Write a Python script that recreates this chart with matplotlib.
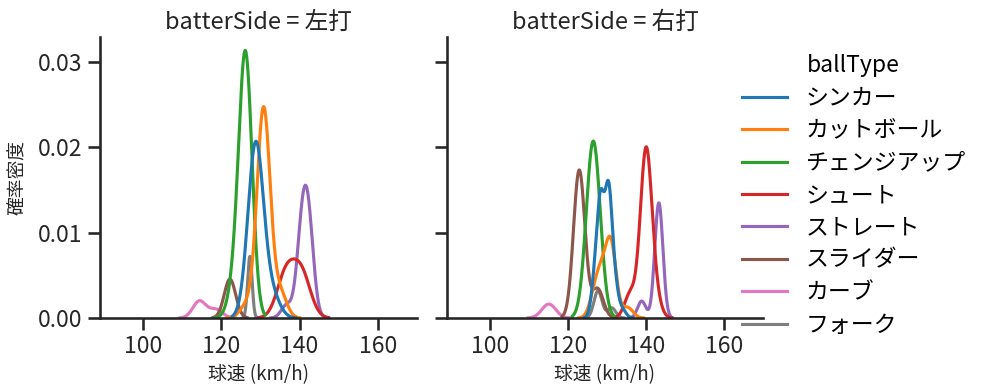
import numpy as np
import matplotlib
matplotlib.use("Agg")
import matplotlib.pyplot as plt
from matplotlib.lines import Line2D

plt.rcParams['font.family'] = ['Noto Sans CJK JP', 'DejaVu Sans']

ball_types = ["シンカー", "カットボール", "チェンジアップ", "シュート",
              "ストレート", "スライダー", "カーブ", "フォーク"]
colors = ["#1f77b4", "#ff7f0e", "#2ca02c", "#d62728",
          "#9467bd", "#8c564b", "#e377c2", "#7f7f7f"]
sides = ["左打", "右打"]
xticks = [100, 120, 140, 160]
yticks = [0.00, 0.01, 0.02, 0.03]

# speed bins (km/h), pitch counts and kde bandwidth per ball type
left_speeds = [[128.8, 133.0], [126.5, 130.8, 135.0], [123.5, 126.2], [136.5, 140.5],
               [136.7, 140.6, 142.3], [122.2], [114.4, 118.6], [127.3]]
left_counts = [[98, 12], [6, 99, 12], [15, 122], [28, 28],
               [5, 30, 32], [16], [8, 4], [10]]
left_bw = [1.99, 1.67, 1.67, 2.3, 1.36, 1.46, 1.67, 0.575]

right_speeds = [[126.9, 128.4, 130.4, 132.0, 134.0], [126.9, 128.6, 131.0, 135.3], [126.5],
                [136.0, 140.0, 142.3], [138.9, 143.3], [122.9, 127.6], [115.1], [127.7, 131.2]]
right_counts = [[9, 28, 31, 8, 2], [8, 13, 28, 4], [89],
                [10, 68, 8], [5, 34], [61, 12], [7], [8, 3]]
right_bw = [0.91, 1.36, 1.78, 1.46, 1.045, 1.46, 1.78, 1.045]

total = sum(sum(c) for c in left_counts + right_counts)


def kde(speeds, counts, bw):
	x = np.linspace(min(speeds) - 3 * bw, max(speeds) + 3 * bw, 400)
	y = np.zeros_like(x)
	for s, c in zip(speeds, counts):
		y += c * np.exp(-0.5 * ((x - s) / bw) ** 2)
	y /= bw * np.sqrt(2 * np.pi) * total
	return x, y


fig = plt.figure(figsize=(9.87, 3.91), dpi=100)
ax1 = fig.add_axes([100 / 987, 73 / 391, 317 / 987, 281 / 391])
ax2 = fig.add_axes([447 / 987, 73 / 391, 316 / 987, 281 / 391], sharey=ax1)

ymax = 0
panels = [(ax1, left_speeds, left_counts, left_bw), (ax2, right_speeds, right_counts, right_bw)]
for (ax, speeds, counts, bws), side in zip(panels, sides):
	# seaborn draws hue levels in reverse, first level on top
	for i in reversed(range(len(ball_types))):
		x, y = kde(speeds[i], counts[i], bws[i])
		ax.plot(x, y, color=colors[i], lw=2.25)
		ymax = max(ymax, y.max())
	ax.set_title("batterSide = " + side, fontsize=17, color=".15")
	ax.set_xlabel("球速 (km/h)", fontsize=13.5, color=".15")
	ax.set_xlim(89, 170)
	ax.set_xticks(xticks)
	for sp in ["top", "right"]:
		ax.spines[sp].set_visible(False)
	for sp in ["left", "bottom"]:
		ax.spines[sp].set_linewidth(1.875)
		ax.spines[sp].set_color(".15")
	ax.tick_params(length=8.5, width=1.875, labelsize=16.5, color=".15", labelcolor=".15", pad=4)

ax1.set_ylim(0, ymax * 1.05)
ax1.set_yticks(yticks)
ax1.set_yticklabels(["%.2f" % t for t in yticks])
ax1.set_ylabel("確率密度", fontsize=13.5, color=".15", labelpad=7)
plt.setp(ax2.get_yticklabels(), visible=False)

handles = [Line2D([], [], color=c, lw=2.25) for c in colors]
leg = fig.legend(handles, ball_types, title="ballType", loc="center left",
                 bbox_to_anchor=(0.7305, 0.5), frameon=False, fontsize=16.5,
                 title_fontsize=16.5, labelspacing=0.41)

fig.savefig("out.png", dpi=100)
